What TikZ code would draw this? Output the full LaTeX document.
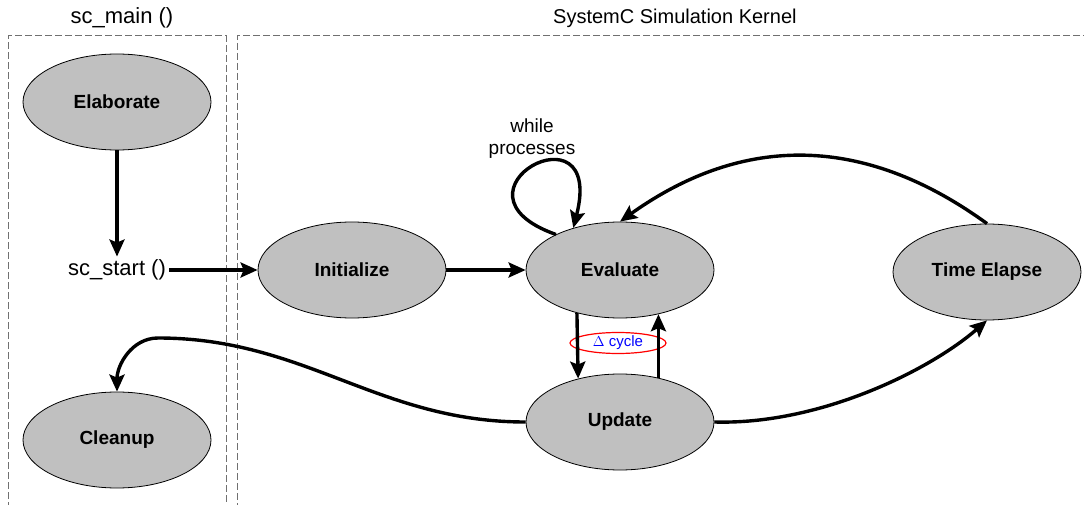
\documentclass[tikz,border=0pt]{standalone}
\usepackage{fontspec}
\setmainfont{Liberation Sans}
\usetikzlibrary{shapes.geometric,arrows.meta}
\definecolor{nodegray}{HTML}{C0C0C0}
\definecolor{boxgray}{HTML}{707070}
\tikzset{
  x=1pt,y=1pt,
  state/.style={ellipse, draw=black, line width=0.8pt, fill=nodegray, minimum width=188pt, minimum height=96pt, inner sep=0pt, font=\fontsize{19}{22}\selectfont\bfseries},
  flow/.style={line width=3.4pt, -{Stealth[length=17pt,width=15pt,inset=3pt]}},
  region/.style={draw=boxgray, line width=1pt, dash pattern=on 7pt off 3pt},
  title/.style={font=\fontsize{20}{24}\selectfont, inner sep=0pt},
}
\begin{document}
\begin{tikzpicture}
\useasboundingbox (0,0) rectangle (1084,504);
% regions
\draw[region] (8,-5) -- (8,468) -- (226,468) -- (226,-5);
\draw[region] (1090,468) -- (237,468) -- (237,-5);
\node[title, font=\fontsize{22}{26}\selectfont] (tmain) at (122,486) {sc\_main ()};
\node[title, anchor=west] (tkern) at (553,486) {SystemC Simulation Kernel};
% states
\node[state] (el) at (117,402) {Elaborate};
\node[inner sep=3pt, font=\fontsize{22}{26}\selectfont] (ss) at (117,234) {sc\_start ()};
\node[state] (in) at (352,234) {Initialize};
\node[state] (ev) at (620,234) {Evaluate};
\node[state] (te) at (987,232) {Time Elapse};
\node[state] (up) at (620,82) {Update};
\node[state] (cl) at (117,64) {Cleanup};
\node[font=\fontsize{19}{22}\selectfont, align=center, inner sep=0pt] (wp) at (532,365) {while\\processes};
\node[ellipse, draw=red, line width=1.2pt, text=blue, minimum width=96pt, minimum height=21pt, inner sep=0pt, font=\fontsize{15}{18}\selectfont] (dc) at (618,161) {$\Delta$ cycle};
% connectors
\draw[flow] (el.south) -- (ss.north);
\draw[flow] (ss.east) -- (in.west);
\draw[flow] (in.east) -- (ev.west);
\draw[flow] (ev.151) .. controls (436,312) and (606,404) .. (ev.138);
\draw[flow] (te.north) .. controls (865,369) and (744,371) .. (ev.north);
\draw[flow] (ev.225.6) -- (up.134.4);
\draw[flow] (up.49.1) -- (ev.-49.1);
\draw[flow] (up.east) .. controls (820,79) and (930,134) .. (te.south);
\draw[flow] (up.west) to[out=180,in=0] (158,166) to[out=180,in=90] (cl.north);
\end{tikzpicture}
\end{document}
